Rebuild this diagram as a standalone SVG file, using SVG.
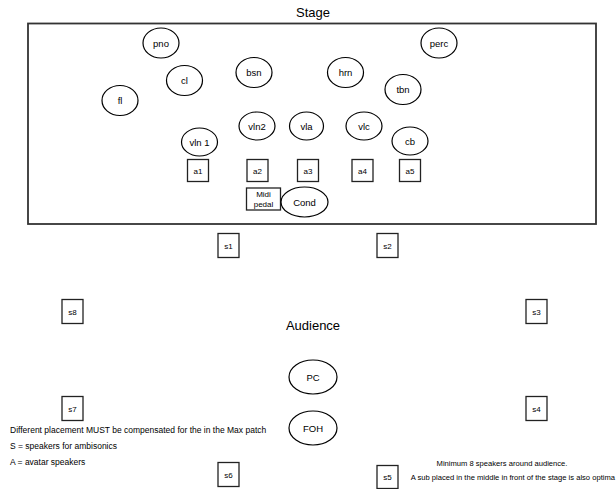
<svg xmlns="http://www.w3.org/2000/svg" width="616" height="489" viewBox="0 0 616 489">
  <style>
    text { font-family: "Liberation Sans", Arial, sans-serif; fill: #000; }
    .title { font-size: 13px; text-anchor: middle; }
    .lbl { font-size: 9.5px; text-anchor: middle; }
    .sm { font-size: 8px; text-anchor: middle; }
    .note { font-size: 8.5px; }
    .note-r { font-size: 7.6px; }
    .inst { fill: #fff; stroke: #000; stroke-width: 1.2; }
    .spk { fill: #fff; stroke: #222; stroke-width: 1.3; }
    .stage { fill: #fff; stroke: #333; stroke-width: 1.8; }
  </style>

  <!-- stage area -->
  <text class="title" x="313" y="17">Stage</text>
  <rect id="stage" class="stage" x="28" y="23.5" width="568" height="200.5"/>

  <!-- instrument positions -->
  <g id="pno"><ellipse class="inst" cx="161" cy="43" rx="18" ry="15"/><text class="lbl" x="161" y="46.5">pno</text></g>
  <g id="perc"><ellipse class="inst" cx="439" cy="43" rx="18" ry="15"/><text class="lbl" x="439" y="46.5">perc</text></g>
  <g id="cl"><ellipse class="inst" cx="184.5" cy="80.5" rx="18" ry="15"/><text class="lbl" x="184.5" y="84">cl</text></g>
  <g id="bsn"><ellipse class="inst" cx="254" cy="72.5" rx="18" ry="15"/><text class="lbl" x="254" y="76">bsn</text></g>
  <g id="hrn"><ellipse class="inst" cx="345.5" cy="72.5" rx="18" ry="15"/><text class="lbl" x="345.5" y="76">hrn</text></g>
  <g id="tbn"><ellipse class="inst" cx="403" cy="89.5" rx="18" ry="15"/><text class="lbl" x="403" y="93">tbn</text></g>
  <g id="fl"><ellipse class="inst" cx="120" cy="100.5" rx="18" ry="15"/><text class="lbl" x="120" y="104">fl</text></g>
  <g id="vln1"><ellipse class="inst" cx="199.5" cy="142" rx="18" ry="14"/><text class="lbl" x="199.5" y="145.5">vln 1</text></g>
  <g id="vln2"><ellipse class="inst" cx="257" cy="126" rx="18" ry="14"/><text class="lbl" x="257" y="129.5">vln2</text></g>
  <g id="vla"><ellipse class="inst" cx="306.5" cy="126" rx="17" ry="14"/><text class="lbl" x="306.5" y="129.5">vla</text></g>
  <g id="vlc"><ellipse class="inst" cx="364" cy="126" rx="18" ry="14"/><text class="lbl" x="364" y="129.5">vlc</text></g>
  <g id="cb"><ellipse class="inst" cx="410" cy="141" rx="18" ry="14"/><text class="lbl" x="410" y="144.5">cb</text></g>

  <!-- avatar speakers -->
  <g id="a1"><rect class="spk" x="187.5" y="159.5" width="21" height="22"/><text class="sm" x="198" y="173.5">a1</text></g>
  <g id="a2"><rect class="spk" x="247" y="159.5" width="21" height="22"/><text class="sm" x="257.5" y="173.5">a2</text></g>
  <g id="a3"><rect class="spk" x="297.5" y="159.5" width="21" height="22"/><text class="sm" x="308" y="173.5">a3</text></g>
  <g id="a4"><rect class="spk" x="352" y="159.5" width="21" height="22"/><text class="sm" x="362.5" y="173.5">a4</text></g>
  <g id="a5"><rect class="spk" x="399.5" y="159.5" width="21" height="22"/><text class="sm" x="410" y="173.5">a5</text></g>

  <g id="midi-pedal"><rect class="spk" x="246.5" y="188" width="34" height="22"/><text class="sm" x="263.5" y="197">Midi</text><text class="sm" x="263.5" y="207">pedal</text></g>
  <g id="cond"><ellipse class="inst" cx="304.5" cy="202" rx="23.5" ry="15"/><text class="lbl" x="304.5" y="205.5">Cond</text></g>

  <!-- audience area -->
  <text class="title" x="313" y="330">Audience</text>
  <g id="pc"><ellipse class="inst" cx="313" cy="377" rx="24" ry="17"/><text class="lbl" x="313" y="380.5">PC</text></g>
  <g id="foh"><ellipse class="inst" cx="313" cy="428" rx="24" ry="17"/><text class="lbl" x="313" y="431.5">FOH</text></g>

  <!-- ambisonic speakers -->
  <g id="s1"><rect class="spk" x="218" y="233.5" width="21" height="24"/><text class="sm" x="228.5" y="248.5">s1</text></g>
  <g id="s2"><rect class="spk" x="377" y="233.5" width="21" height="24"/><text class="sm" x="387.5" y="248.5">s2</text></g>
  <g id="s3"><rect class="spk" x="526" y="299.5" width="21" height="24"/><text class="sm" x="536.5" y="314.5">s3</text></g>
  <g id="s4"><rect class="spk" x="526" y="396.5" width="21" height="24"/><text class="sm" x="536.5" y="411.5">s4</text></g>
  <g id="s5"><rect class="spk" x="377" y="465.5" width="21" height="23"/><text class="sm" x="387.5" y="480">s5</text></g>
  <g id="s6"><rect class="spk" x="218" y="462.5" width="21" height="24"/><text class="sm" x="228.5" y="477.5">s6</text></g>
  <g id="s7"><rect class="spk" x="62" y="396.5" width="21" height="24"/><text class="sm" x="72.5" y="411.5">s7</text></g>
  <g id="s8"><rect class="spk" x="62" y="299.5" width="21" height="24"/><text class="sm" x="72.5" y="314.5">s8</text></g>

  <!-- notes -->
  <text class="note" x="10" y="433">Different placement MUST be compensated for the in the Max patch</text>
  <text class="note" x="10" y="449">S = speakers for ambisonics</text>
  <text class="note" x="10" y="465">A = avatar speakers</text>
  <text class="note-r" x="502" y="466" text-anchor="middle">Minimum 8 speakers around audience.</text>
  <text class="note-r" x="615" y="480" text-anchor="end">A sub placed in the middle in front of the stage is also optima</text>
</svg>
